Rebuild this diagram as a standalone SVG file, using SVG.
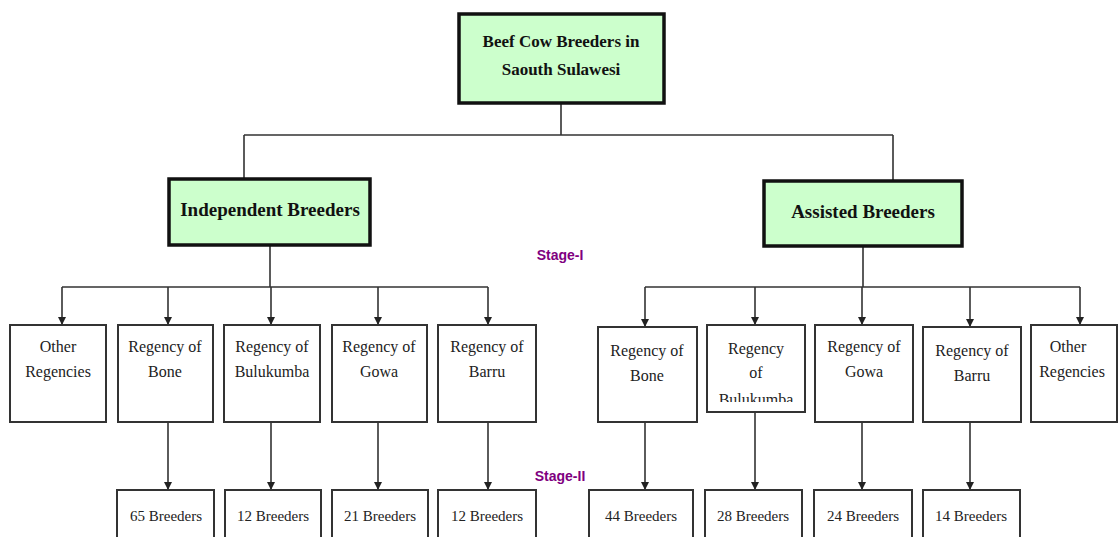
<svg xmlns="http://www.w3.org/2000/svg" width="1119" height="537" viewBox="0 0 1119 537">
<style>
.g{fill:#ccffcc;stroke:#111;stroke-width:3.5}
.b{fill:#fff;stroke:#333;stroke-width:2}
.h{font-family:"Liberation Serif",serif;font-weight:bold;fill:#111;text-anchor:middle}
.t{font-family:"Liberation Serif",serif;font-size:16px;fill:#222;text-anchor:middle}
.u{font-family:"Liberation Serif",serif;font-size:15px;fill:#222;text-anchor:middle}
.s{font-family:"Liberation Sans",sans-serif;font-weight:bold;font-size:14px;fill:#800080;text-anchor:middle}
.c{fill:none;stroke:#333;stroke-width:1.6}
.a{fill:none;stroke:#333;stroke-width:1.6;marker-end:url(#ar)}
</style>
<defs>
<marker id="ar" viewBox="0 0 10 10" refX="10" refY="5" markerWidth="8" markerHeight="9" markerUnits="userSpaceOnUse" orient="auto"><path d="M0,0L10,5L0,10z" fill="#222"/></marker>
<clipPath id="cb"><rect x="707" y="325" width="98" height="77"/></clipPath>
</defs>
<rect width="1119" height="537" fill="#fff"/>
<g id="connectors">
<path class="c" d="M561,104V135M244,135H893M244,135V178M893,135V180"/>
<path class="c" d="M270,246V287M62,287H488"/>
<path class="a" d="M62,287V325"/><path class="a" d="M168,287V325"/><path class="a" d="M271,287V325"/><path class="a" d="M378,287V325"/><path class="a" d="M488,287V325"/>
<path class="c" d="M863,247V287M645,287H1080"/>
<path class="a" d="M645,287V327"/><path class="a" d="M755,287V325"/><path class="a" d="M862,287V325"/><path class="a" d="M970,287V327"/><path class="a" d="M1080,287V325"/>
<path class="a" d="M168,422V490"/><path class="a" d="M271,422V490"/><path class="a" d="M378,422V490"/><path class="a" d="M488,422V490"/>
<path class="a" d="M645,422V490"/><path class="a" d="M755,412V490"/><path class="a" d="M862,422V490"/><path class="a" d="M970,422V490"/>
</g>
<g id="root"><rect class="g" x="459" y="14" width="205" height="89"/><text class="h" font-size="17" x="561" y="47">Beef Cow Breeders in</text><text class="h" font-size="17" x="561" y="75">Saouth Sulawesi</text></g>
<g id="independent"><rect class="g" x="169" y="179" width="201" height="66"/><text class="h" font-size="19" x="270" y="216">Independent  Breeders</text></g>
<g id="assisted"><rect class="g" x="764" y="181" width="198" height="65"/><text class="h" font-size="19" x="863" y="218">Assisted  Breeders</text></g>
<g id="stage1"><text class="s" x="560" y="260">Stage-I</text></g>
<g id="stage2"><text class="s" x="560" y="481">Stage-II</text></g>
<g id="l-other"><rect class="b" x="10" y="325" width="96" height="97"/><text class="t" x="58" y="352">Other</text><text class="t" x="58" y="377">Regencies</text></g>
<g id="l-bone"><rect class="b" x="118" y="325" width="95" height="97"/><text class="t" x="165" y="352">Regency of</text><text class="t" x="165" y="377">Bone</text></g>
<g id="l-bulu"><rect class="b" x="224" y="325" width="96" height="97"/><text class="t" x="272" y="352">Regency of</text><text class="t" x="272" y="377">Bulukumba</text></g>
<g id="l-gowa"><rect class="b" x="332" y="325" width="95" height="97"/><text class="t" x="379" y="352">Regency of</text><text class="t" x="379" y="377">Gowa</text></g>
<g id="l-barru"><rect class="b" x="438" y="325" width="98" height="97"/><text class="t" x="487" y="352">Regency of</text><text class="t" x="487" y="377">Barru</text></g>
<g id="r-bone"><rect class="b" x="598" y="327" width="99" height="95"/><text class="t" x="647" y="356">Regency of</text><text class="t" x="647" y="381">Bone</text></g>
<g id="r-bulu"><rect class="b" x="707" y="325" width="98" height="87"/><text class="t" x="756" y="354">Regency</text><text class="t" x="756" y="378">of</text><text class="t" x="756" y="405" clip-path="url(#cb)">Bulukumba</text></g>
<g id="r-gowa"><rect class="b" x="815" y="325" width="98" height="97"/><text class="t" x="864" y="352">Regency of</text><text class="t" x="864" y="377">Gowa</text></g>
<g id="r-barru"><rect class="b" x="923" y="327" width="98" height="95"/><text class="t" x="972" y="356">Regency of</text><text class="t" x="972" y="381">Barru</text></g>
<g id="r-other"><rect class="b" x="1031" y="325" width="86" height="97"/><text class="t" x="1068" y="352">Other</text><text class="t" x="1072" y="377">Regencies</text></g>
<g id="b65"><rect class="b" x="117" y="490" width="97" height="60"/><text class="u" x="166" y="521">65 Breeders</text></g>
<g id="b12a"><rect class="b" x="225" y="490" width="96" height="60"/><text class="u" x="273" y="521">12 Breeders</text></g>
<g id="b21"><rect class="b" x="332" y="490" width="96" height="60"/><text class="u" x="380" y="521">21 Breeders</text></g>
<g id="b12b"><rect class="b" x="438" y="490" width="98" height="60"/><text class="u" x="487" y="521">12 Breeders</text></g>
<g id="b44"><rect class="b" x="589" y="490" width="104" height="60"/><text class="u" x="641" y="521">44 Breeders</text></g>
<g id="b28"><rect class="b" x="705" y="490" width="97" height="60"/><text class="u" x="753" y="521">28 Breeders</text></g>
<g id="b24"><rect class="b" x="814" y="490" width="98" height="60"/><text class="u" x="863" y="521">24 Breeders</text></g>
<g id="b14"><rect class="b" x="923" y="490" width="97" height="60"/><text class="u" x="971" y="521">14 Breeders</text></g>
</svg>
